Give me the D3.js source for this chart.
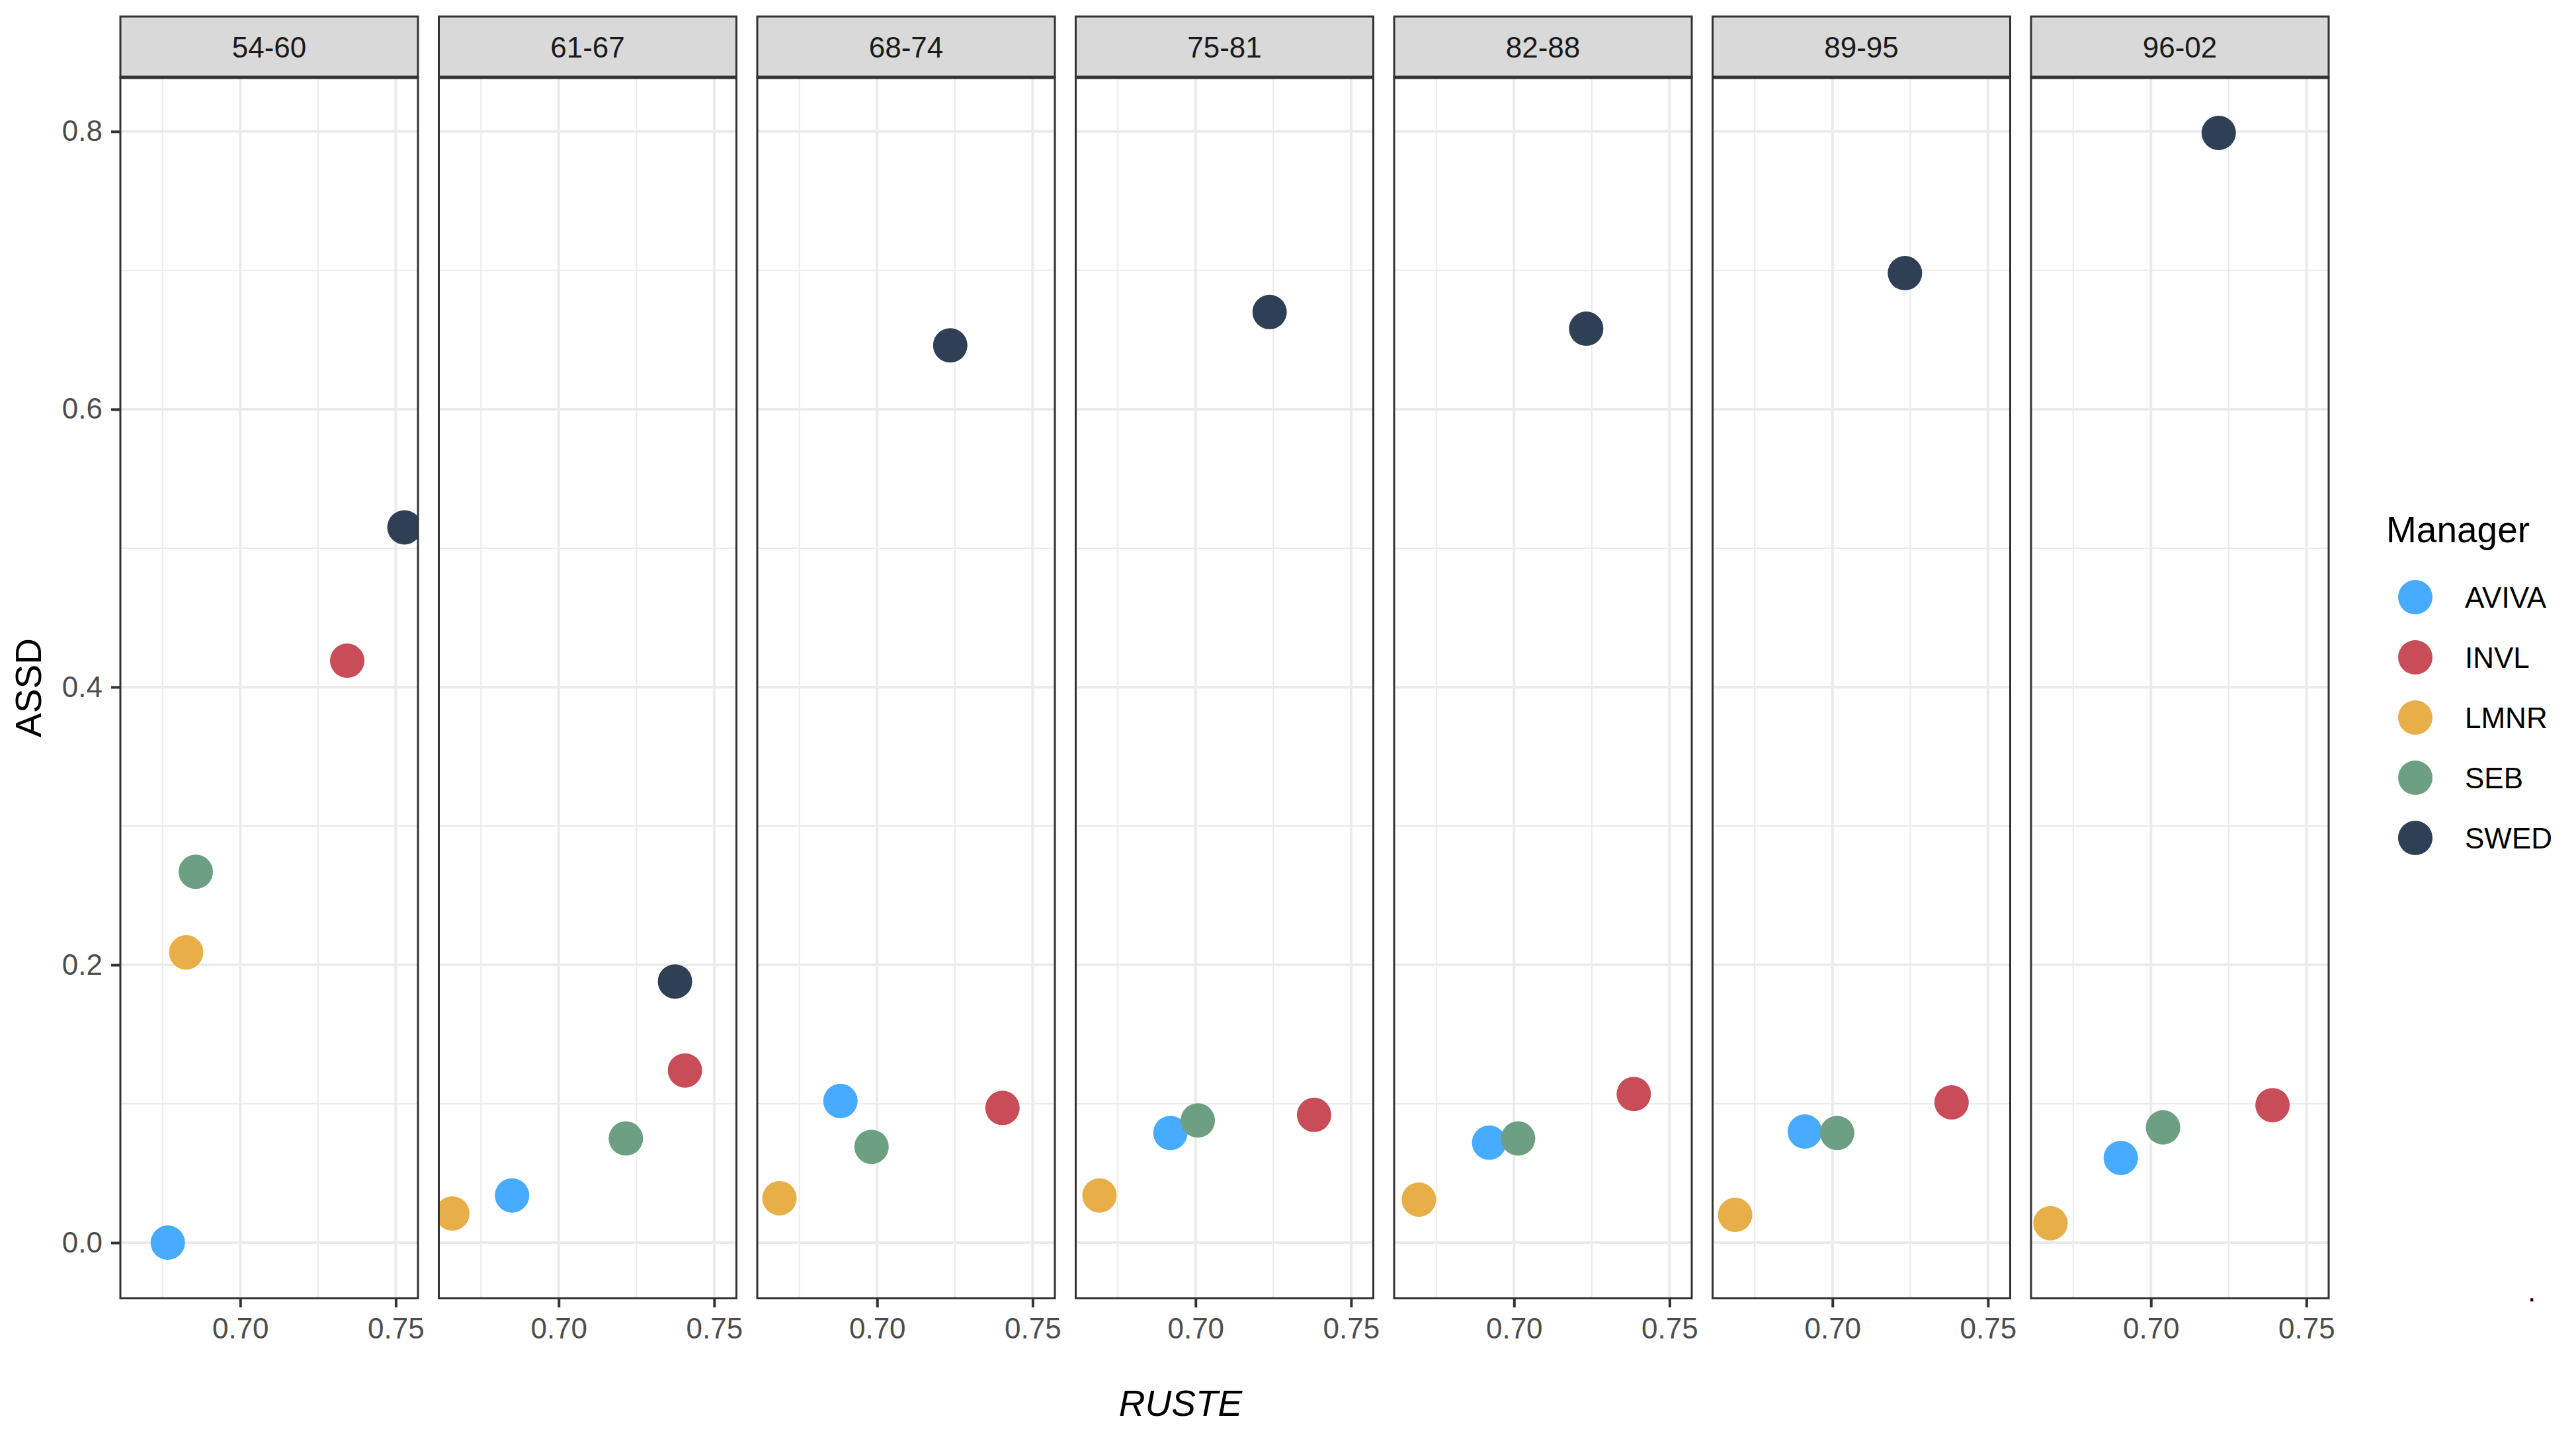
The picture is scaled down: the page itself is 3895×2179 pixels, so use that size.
<!DOCTYPE html>
<html>
<head>
<meta charset="utf-8">
<script src="https://cdn.jsdelivr.net/npm/d3@7"></script>
<style>
  html, body { margin: 0; padding: 0; background: #fff; }
  svg { display: block; font-family: "Liberation Sans", Arial, Helvetica, sans-serif; }
</style>
</head>
<body>
<script>
// ---------- data ----------
const periods = ["54-60", "61-67", "68-74", "75-81", "82-88", "89-95", "96-02"];
const managers = ["AVIVA", "INVL", "LMNR", "SEB", "SWED"];
const managerColors = ["#47ABFF", "#C94D59", "#E8AE47", "#6DA082", "#2F3F55"];

// RUSTE (x) per manager, one value per period
const rusteAVIVA = [0.6767, 0.6850, 0.6882, 0.6919, 0.6920, 0.6911, 0.6903];
const rusteINVL  = [0.7344, 0.7406, 0.7403, 0.7381, 0.7385, 0.7383, 0.7391];
const rusteLMNR  = [0.6826, 0.6658, 0.6686, 0.6691, 0.6694, 0.6687, 0.6677];
const rusteSEB   = [0.6857, 0.7216, 0.6982, 0.7007, 0.7013, 0.7015, 0.7039];
const rusteSWED  = [0.7528, 0.7374, 0.7235, 0.7238, 0.7232, 0.7233, 0.7218];

// ASSD (y) per manager, one value per period
const assdAVIVA = [0.000, 0.034, 0.102, 0.079, 0.072, 0.080, 0.061];
const assdINVL  = [0.419, 0.124, 0.097, 0.092, 0.107, 0.101, 0.099];
const assdLMNR  = [0.209, 0.021, 0.032, 0.034, 0.031, 0.020, 0.014];
const assdSEB   = [0.267, 0.075, 0.069, 0.088, 0.075, 0.079, 0.083];
const assdSWED  = [0.515, 0.188, 0.646, 0.670, 0.658, 0.698, 0.799];

const xTicks = [0.70, 0.75];
const xMinorTicks = [0.675, 0.725];
const yTicks = [0.0, 0.2, 0.4, 0.6, 0.8];
const yMinorTicks = [0.1, 0.3, 0.5, 0.7];

const xTitle = "RUSTE";
const yTitle = "ASSD";
const legendTitle = "Manager";

// ---------- build rows ----------
const ruste = { AVIVA: rusteAVIVA, INVL: rusteINVL, LMNR: rusteLMNR, SEB: rusteSEB, SWED: rusteSWED };
const assd  = { AVIVA: assdAVIVA,  INVL: assdINVL,  LMNR: assdLMNR,  SEB: assdSEB,  SWED: assdSWED };
const rows = [];
periods.forEach((p, i) => managers.forEach(m => rows.push({ period: p, manager: m, x: ruste[m][i], y: assd[m][i] })));

// ---------- layout ----------
const W = 3895, H = 2179;
const panelLeft0 = 182, panelStep = 481.5, panelW = 450;
const stripTop = 25, panelTop = 117, panelBottom = 1963;

function expand(ext) { const r = ext[1] - ext[0]; return [ext[0] - 0.05 * r, ext[1] + 0.05 * r]; }
const x = d3.scaleLinear().domain(expand(d3.extent(rows, d => d.x))).range([0, panelW]);
const y = d3.scaleLinear().domain(expand([0, d3.max(rows, d => d.y)])).range([panelBottom, panelTop]);
const color = d3.scaleOrdinal().domain(managers).range(managerColors);

const svg = d3.select("body").append("svg").attr("width", W).attr("height", H);
svg.append("rect").attr("width", W).attr("height", H).attr("fill", "#fff");

const defs = svg.append("defs");
defs.append("clipPath").attr("id", "panelClip")
  .append("rect").attr("x", 0).attr("y", panelTop).attr("width", panelW).attr("height", panelBottom - panelTop);

const R = 26;

periods.forEach((p, i) => {
  const g = svg.append("g").attr("transform", `translate(${panelLeft0 + i * panelStep},0)`);
  // background
  g.append("rect").attr("x", 0).attr("y", panelTop).attr("width", panelW).attr("height", panelBottom - panelTop).attr("fill", "#fff");
  // minor grid
  g.selectAll(".ymin").data(yMinorTicks).enter().append("line")
    .attr("x1", 0).attr("x2", panelW).attr("y1", d => y(d)).attr("y2", d => y(d))
    .attr("stroke", "#EBEBEB").attr("stroke-width", 2);
  g.selectAll(".xmin").data(xMinorTicks).enter().append("line")
    .attr("x1", d => x(d)).attr("x2", d => x(d)).attr("y1", panelTop).attr("y2", panelBottom)
    .attr("stroke", "#EBEBEB").attr("stroke-width", 2);
  // major grid
  g.selectAll(".ymaj").data(yTicks).enter().append("line")
    .attr("x1", 0).attr("x2", panelW).attr("y1", d => y(d)).attr("y2", d => y(d))
    .attr("stroke", "#EBEBEB").attr("stroke-width", 4);
  g.selectAll(".xmaj").data(xTicks).enter().append("line")
    .attr("x1", d => x(d)).attr("x2", d => x(d)).attr("y1", panelTop).attr("y2", panelBottom)
    .attr("stroke", "#EBEBEB").attr("stroke-width", 4);
  // points
  g.append("g").attr("clip-path", "url(#panelClip)")
    .selectAll("circle").data(rows.filter(d => d.period === p)).enter().append("circle")
    .attr("cx", d => x(d.x)).attr("cy", d => y(d.y)).attr("r", R)
    .attr("fill", d => color(d.manager));
  // panel border
  g.append("rect").attr("x", 0).attr("y", panelTop).attr("width", panelW).attr("height", panelBottom - panelTop)
    .attr("fill", "none").attr("stroke", "#333333").attr("stroke-width", 3);
  // strip
  g.append("rect").attr("x", 0).attr("y", stripTop).attr("width", panelW).attr("height", panelTop - stripTop)
    .attr("fill", "#D9D9D9").attr("stroke", "#333333").attr("stroke-width", 3);
  g.append("line").attr("x1", 0).attr("x2", panelW).attr("y1", panelTop).attr("y2", panelTop)
    .attr("stroke", "#333333").attr("stroke-width", 5);
  g.append("text").attr("x", panelW / 2).attr("y", (stripTop + panelTop) / 2).attr("dy", "0.36em")
    .attr("text-anchor", "middle").attr("font-size", 44).attr("fill", "#1A1A1A").text(p);
  // x axis
  const xa = g.append("g").attr("transform", `translate(0,${panelBottom})`)
    .call(d3.axisBottom(x).tickValues(xTicks).tickFormat(d3.format(".2f")).tickSize(14).tickPadding(16));
  xa.select(".domain").remove();
  xa.selectAll(".tick line").attr("stroke", "#333333").attr("stroke-width", 4);
  xa.selectAll(".tick text").attr("font-size", 44).attr("fill", "#4D4D4D")
    .attr("font-family", "'Liberation Sans', Arial, sans-serif");
});

// y axis on first panel
const ya = svg.append("g").attr("transform", `translate(${panelLeft0},0)`)
  .call(d3.axisLeft(y).tickValues(yTicks).tickFormat(d3.format(".1f")).tickSize(14).tickPadding(13));
ya.select(".domain").remove();
ya.selectAll(".tick line").attr("stroke", "#333333").attr("stroke-width", 4);
ya.selectAll(".tick text").attr("font-size", 44).attr("fill", "#4D4D4D")
  .attr("font-family", "'Liberation Sans', Arial, sans-serif");

// axis titles
svg.append("text").attr("x", 1785).attr("y", 2141).attr("text-anchor", "middle")
  .attr("font-size", 55).attr("font-style", "italic").attr("fill", "#000").text(xTitle);
svg.append("text").attr("transform", `translate(62,${(panelTop + panelBottom) / 2}) rotate(-90)`)
  .attr("text-anchor", "middle").attr("font-size", 55).attr("fill", "#000").text(yTitle);

// legend
const lg = svg.append("g");
lg.append("text").attr("x", 3608).attr("y", 820).attr("font-size", 55).attr("fill", "#000").text(legendTitle);
const items = lg.selectAll(".item").data(managers).enter().append("g")
  .attr("transform", (d, i) => `translate(0,${903 + i * 91})`);
items.append("circle").attr("cx", 3652).attr("cy", 0).attr("r", R).attr("fill", d => color(d));
items.append("text").attr("x", 3727).attr("y", 0).attr("dy", "0.36em").attr("font-size", 44).attr("fill", "#000").text(d => d);

// stray caption dot
svg.append("text").attr("x", 3828).attr("y", 1968).attr("text-anchor", "middle").attr("font-size", 44).attr("fill", "#000").text(".");
</script>
</body>
</html>
